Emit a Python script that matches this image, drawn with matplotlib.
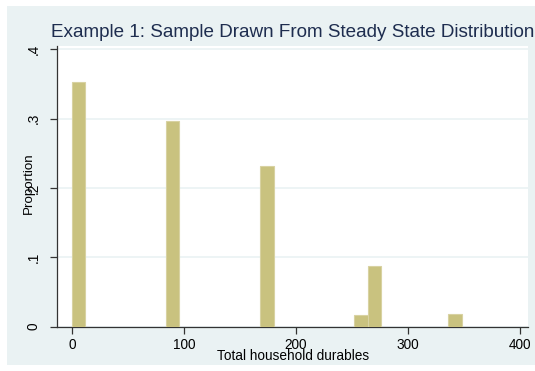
import matplotlib
matplotlib.use('Agg')
import matplotlib.pyplot as plt
from matplotlib.patches import Rectangle

plt.rcParams['font.family'] = ['Liberation Sans', 'DejaVu Sans']

# histogram bins (left edges, width 12) and proportions
bin_left   = [0, 84, 168, 252, 264, 336]
bin_width  = 12
proportion = [0.353, 0.296, 0.232, 0.017, 0.087, 0.018]

yticks      = [0, 0.1, 0.2, 0.3, 0.4]
ytick_lbls  = ['0', '.1', '.2', '.3', '.4']
xticks      = [0, 100, 200, 300, 400]

title_txt = 'Example 1: Sample Drawn From Steady State Distribution'
xlab      = 'Total household durables'
ylab      = 'Proportion'

bg      = '#eaf2f3'
bar_col = '#c9c27f'
navy    = '#1e2d4f'

W, H = 535, 371
fig = plt.figure(figsize=(W / 100, H / 100), dpi=100)
fig.patch.set_facecolor('white')
fig.patches.append(Rectangle((7 / W, 1 - 365 / H), 1, (365 - 6) / H,
                             transform=fig.transFigure, facecolor=bg,
                             edgecolor='none', zorder=-1))

ax = fig.add_axes([57 / W, 1 - 326.5 / H, (527.7 - 57) / W, (326.5 - 46) / H])
ax.set_zorder(1)
ax.set_facecolor('white')

ax.bar(bin_left, proportion, width=bin_width, align='edge',
       color=bar_col, edgecolor='#d8d2a2', linewidth=0.8, zorder=3)

ax.set_xlim(-13.4, 407)
ax.set_ylim(0, 0.405)
ax.set_yticks(yticks)
ax.set_yticklabels(ytick_lbls, rotation=90, va='center')
ax.set_xticks(xticks)

ax.grid(axis='y', color=bg, linewidth=1.2, zorder=0)
for s in ['top', 'right']:
    ax.spines[s].set_visible(False)
for s in ['left', 'bottom']:
    ax.spines[s].set_color('#333333')
    ax.spines[s].set_linewidth(0.9)

ax.tick_params(axis='both', direction='out', length=5, width=0.9,
               color='#333333', labelsize=9.8, labelcolor='black')
ax.tick_params(axis='y', pad=7)
ax.tick_params(axis='x', pad=3)

fig.text(51 / W, 1 - 37 / H, title_txt, fontsize=13.6, color=navy,
         ha='left', va='baseline', zorder=2)
fig.text(29 / W, 1 - 183 / H, ylab, rotation=90, fontsize=9.6,
         ha='center', va='center', zorder=2)
fig.text(293.5 / W, 1 - 355.5 / H, xlab, fontsize=9.8,
         ha='center', va='center', zorder=2)

fig.savefig('out.png', dpi=100)
